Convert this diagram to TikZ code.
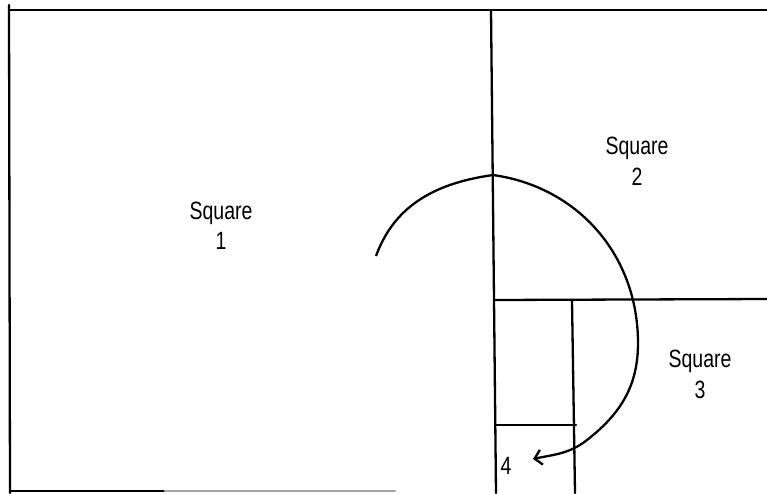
\documentclass[tikz,border=0pt]{standalone}
\usepackage{fontspec}
\setmainfont{Liberation Sans}
\usepackage{tikz}
\usetikzlibrary{positioning}
\usetikzlibrary{arrows.meta}

\tikzset{
    edge/.style={line width=2.3pt, line cap=round},
    label/.style={inner sep=0pt, xscale=0.78, font=\fontsize{25}{29}\selectfont},
    spiral/.style={line width=2.3pt, line join=round, -{Straight Barb[length=7pt, width=15pt, line width=2.3pt]}}
}

\begin{document}
\begin{tikzpicture}[x=1pt, y=-1pt]
    \useasboundingbox (0,0) rectangle (767,493);

        % corners of the squares
        \coordinate (tl) at (9,10);
        \coordinate (tr) at (767,10);
        \coordinate (lb) at (10,493);
        \coordinate (dt) at (491,10);
        \coordinate (db) at (496,493);
        \coordinate (ml) at (494,300);
        \coordinate (mr) at (767,299);
        \coordinate (st) at (572,301);
        \coordinate (sb) at (575,493);
        \coordinate (hl) at (495,425);
        \coordinate (hr) at (576,425);

        \draw [edge] (9,5) -- (lb);
        \draw [edge] (tl) -- (tr);
        \draw [edge] (dt) -- (db);
        \draw [edge] (ml) -- (mr);
        \draw [edge] (st) -- (sb);
        \draw [edge] (hl) -- (hr);
        \draw [edge] (11,491) -- (165,491);
        \draw [edge, black!35] (165,491) -- (395,491);

        % labels
        \node [label] (sq1) at (221,213) {Square};
        \node [label, below=8pt of sq1] (n1) {1};
        \node [label] (sq2) at (637,148) {Square};
        \node [label, below=8pt of sq2] (n2) {2};
        \node [label] (sq3) at (700,361) {Square};
        \node [label, below=8pt of sq3] (n3) {3};
        \node [label] (n4) at (506,466) {4};

        % spiral
        \coordinate (s0) at (376,256);
        \coordinate (s1) at (493,175);
        \coordinate (s2) at (638,343);
        \coordinate (s3) at (587,440);
        \coordinate (s4) at (533,459);

        \draw [spiral] (s0) to[out=70, in=188] (s1)
            to[out=-8, in=90] (s2)
            to[out=-90, in=38] (s3)
            to[out=-142, in=12] (s4);

\end{tikzpicture}
\end{document}
